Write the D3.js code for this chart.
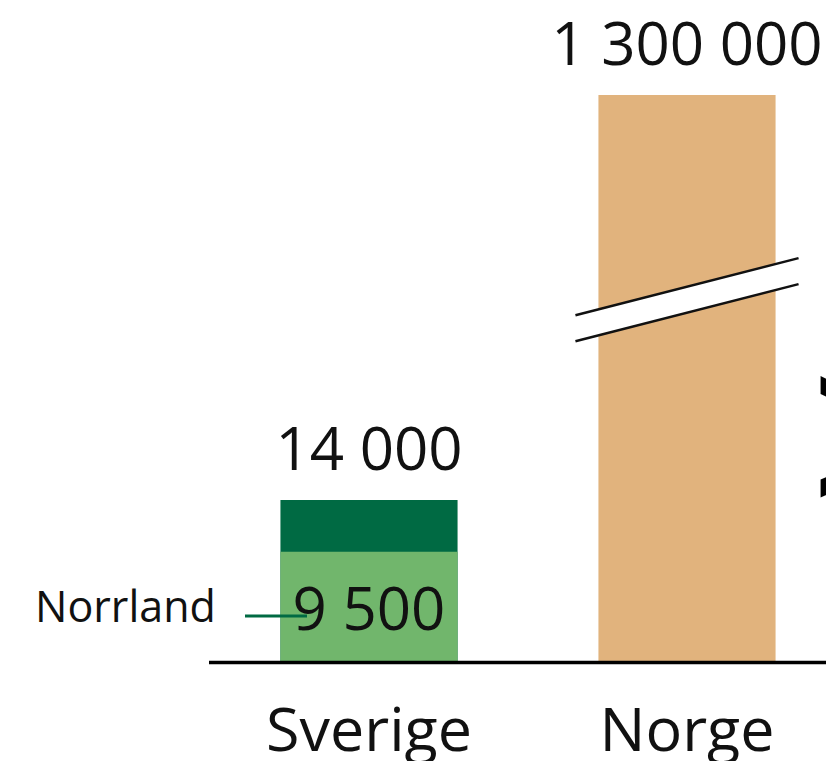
<!DOCTYPE html>
<html lang="sv">
<head>
  <meta charset="UTF-8">
  <title>Sverige / Norge</title>
  <script src="https://cdn.jsdelivr.net/npm/d3@7/dist/d3.min.js"></script>
  <style>
    body { margin: 0; background: #fff; }
    svg { display: block; font-family: "Open Sans", Lato, sans-serif; }
  </style>
</head>
<body>
  <script>
    // data
    const categories = ["Sverige", "Norge"];
    const totals = [14000, 1300000];
    const norrland = [9500, null];
    const labels = ["14 000", "1 300 000"];
    const subLabel = "9 500";
    const breakValue = 650000;   // where the axis break is drawn on Norge

    const W = 826, H = 761;
    const svg = d3.select("body").append("svg")
      .attr("width", W).attr("height", H);

    // x: two bands, y: broken scale (linear up to 14 000, then compressed)
    const x = d3.scaleBand()
      .domain(categories)
      .range([210, 846])
      .paddingInner(0.443)
      .paddingOuter(0.2215);

    const y = d3.scaleLinear()
      .domain([0, 14000, 1300000])
      .range([661, 500, 95]);

    const colTotal = ["#006a43", "#e1b37d"];
    const colSub = "#71b66c";

    // total bars
    svg.selectAll("rect.total")
      .data(categories)
      .join("rect")
      .attr("class", "total")
      .attr("x", d => x(d))
      .attr("y", (d, i) => y(totals[i]))
      .attr("width", x.bandwidth())
      .attr("height", (d, i) => y(0) - y(totals[i]))
      .attr("fill", (d, i) => colTotal[i]);

    // Norrland part of Sverige
    svg.selectAll("rect.sub")
      .data(categories.filter((d, i) => norrland[i] != null))
      .join("rect")
      .attr("class", "sub")
      .attr("x", d => x(d))
      .attr("y", d => y(norrland[categories.indexOf(d)]))
      .attr("width", x.bandwidth())
      .attr("height", d => y(0) - y(norrland[categories.indexOf(d)]))
      .attr("fill", colSub);

    // axis break on Norge
    const bx = x("Norge") + x.bandwidth() / 2;
    const by = y(breakValue);
    const half = x.bandwidth() / 2 + 23;
    const slope = -0.256, gap = 26;
    const upper = [[bx - half, by - 13 + half * -slope], [bx + half, by - 13 - half * -slope]];
    const lower = upper.map(p => [p[0], p[1] + gap]);
    svg.append("polygon")
      .attr("points", [upper[0], upper[1], lower[1], lower[0]].map(p => p.join(",")).join(" "))
      .attr("fill", "#fff");
    [upper, lower].forEach(l => {
      svg.append("line")
        .attr("x1", l[0][0]).attr("y1", l[0][1])
        .attr("x2", l[1][0]).attr("y2", l[1][1])
        .attr("stroke", "#111").attr("stroke-width", 2.5);
    });

    // baseline
    svg.append("line")
      .attr("x1", 209).attr("x2", W)
      .attr("y1", y(0) + 1.5).attr("y2", y(0) + 1.5)
      .attr("stroke", "#000").attr("stroke-width", 3.5);

    // value labels
    svg.selectAll("text.val")
      .data(categories)
      .join("text")
      .attr("class", "val")
      .attr("x", d => x(d) + x.bandwidth() / 2)
      .attr("y", (d, i) => y(totals[i]) - 30.5)
      .attr("text-anchor", "middle")
      .attr("font-size", 60)
      .attr("fill", "#111")
      .text((d, i) => labels[i]);

    svg.append("text")
      .attr("x", x("Sverige") + x.bandwidth() / 2)
      .attr("y", 630)
      .attr("text-anchor", "middle")
      .attr("font-size", 60)
      .attr("fill", "#111")
      .text(subLabel);

    // Norrland annotation
    svg.append("text")
      .attr("x", 35).attr("y", 622)
      .attr("font-size", 43)
      .attr("fill", "#111")
      .text("Norrland");
    svg.append("line")
      .attr("x1", 245).attr("x2", 307)
      .attr("y1", 616).attr("y2", 616)
      .attr("stroke", "#006a43").attr("stroke-width", 3);

    // category labels
    svg.selectAll("text.cat")
      .data(categories)
      .join("text")
      .attr("class", "cat")
      .attr("x", d => x(d) + x.bandwidth() / 2)
      .attr("y", 751)
      .attr("text-anchor", "middle")
      .attr("font-size", 61)
      .attr("fill", "#111")
      .text(d => d);

    // cut-off "much larger" sign at the right edge
    svg.append("text")
      .attr("x", 808).attr("y", 527)
      .attr("font-size", 250)
      .attr("fill", "#000")
      .text(">");
  </script>
</body>
</html>
